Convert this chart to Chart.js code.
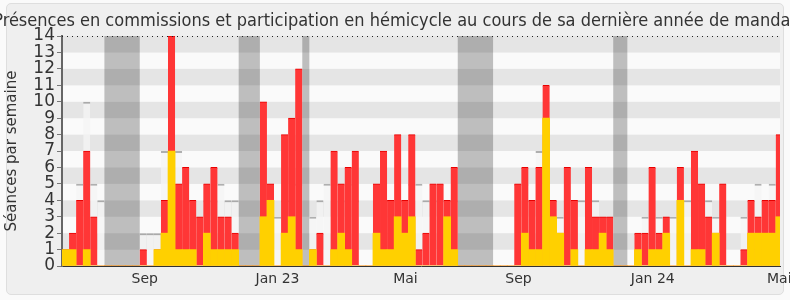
<!DOCTYPE html>
<html lang="fr">
<head>
<meta charset="utf-8">
<title>Présences en commissions et participation en hémicycle</title>
<script src="https://cdn.jsdelivr.net/npm/chart.js@4.4.0/dist/chart.umd.min.js"></script>
<style>
	html, body { margin: 0; padding: 0; background: #fafafa; }
	#wrap { position: relative; width: 790px; height: 300px; overflow: hidden; }
	#panel {
		position: absolute; left: 6px; top: 3px; width: 776px; height: 290px;
		background: #efefef; border: 1px solid #dedede; border-radius: 5px;
	}
	#chart { position: absolute; left: 0; top: 0; }
</style>
</head>
<body>
<div id="wrap">
	<div id="panel"></div>
	<canvas id="chart" width="790" height="300"></canvas>
</div>
<script>
// Weekly values, one entry per week (first week: mid-June 2022)
const commission = [
	1, 2, 4, 7, 3, 0, 0, 0, 0, 0, 0,
	1, 0, 1, 4, 14, 5, 6, 4, 3, 5, 6, 3, 3, 2, 0, 0, 0,
	10, 5, 0, 8, 9, 12, 0,
	1, 2, 0, 7, 5, 6, 7, 0, 0, 5, 7, 4, 8, 4, 8,
	1, 2, 5, 5, 4, 6, 0, 0, 0, 0, 0, 0, 0, 0,
	5, 6, 4, 6, 11, 4, 2, 6, 4, 0, 6, 3, 3, 3, 0, 0,
	0, 2, 2, 6, 2, 3, 0, 6, 0, 7, 5, 3, 2, 5, 0, 0, 1, 4, 3, 4, 4, 8
];
const hemicycle = [
	1, 1, 0, 1, 0, 0, 0, 0, 0, 0, 0,
	0, 0, 1, 2, 7, 1, 1, 1, 0, 2, 1, 1, 1, 1, 0, 0, 0,
	3, 4, 0, 2, 3, 1, 0,
	1, 0, 0, 1, 2, 1, 0, 0, 0, 2, 1, 1, 3, 2, 3,
	0, 0, 0, 0, 3, 1, 0, 0, 0, 0, 0, 0, 0, 0,
	0, 2, 1, 1, 9, 3, 2, 0, 1, 0, 1, 1, 2, 1, 0, 0,
	0, 1, 0, 1, 1, 2, 0, 4, 0, 1, 1, 0, 2, 0, 0, 0, 0, 2, 2, 2, 2, 3
];
// Median of all deputies (light bars with a grey top)
const median = [
	1, 2, 5, 10, 5, 4, 0, 0, 0, 0, 0,
	2, 2, 2, 7, 7, 7, 5, 4, 3, 4, 4, 5, 4, 4, 0, 0, 0,
	3, 4, 3, 4, 4, 5, 0,
	3, 4, 5, 5, 4, 5, 4, 0, 0, 4, 4, 4, 4, 4, 5,
	5, 4, 4, 4, 4, 4, 0, 0, 0, 0, 0, 0, 0, 0,
	5, 5, 4, 7, 7, 4, 3, 4, 4, 4, 4, 4, 3, 3, 0, 0,
	0, 2, 3, 3, 3, 3, 3, 4, 4, 4, 4, 4, 3, 3, 0, 0, 3, 4, 5, 4, 5, 4
];
// Weeks of parliamentary holidays
const vacationWeeks = [6, 7, 8, 9, 10, 25, 26, 27, 34, 56, 57, 58, 59, 60, 78, 79];

const tickLabels = ['Sep', 'Jan 23', 'Mai', 'Sep', 'Jan 24', 'Mai'];
const tickWeeks = [11.7, 30.5, 48.6, 64.6, 83.6, 101.5];

const yMax = 14;
const weekSpan = 101.6;
const titleText = 'Présences en commissions et participation en hémicycle au cours de sa dernière année de mandat';

Chart.defaults.font.family = '"DejaVu Sans", sans-serif';
Chart.defaults.color = '#333';

const toPoints = (values) => values.map((v, i) => ({ x: i + 0.5, y: v }));

// Groups consecutive holiday weeks into [first, last] runs
function vacationRuns() {
	let runs = [];
	for (let w of vacationWeeks) {
		let last = runs[runs.length - 1];
		if (last && last[1] === w - 1) last[1] = w;
		else runs.push([w, w]);
	}
	return runs;
}

// Horizontal bands, holidays, dotted top line and title
const decorations = {
	id: 'decorations',
	beforeDraw(chart) {
		const { ctx, chartArea: a, scales: { y } } = chart;
		ctx.save();
		for (let k = 0; k < yMax; k++) {
			const top = y.getPixelForValue(k + 1);
			const bottom = y.getPixelForValue(k);
			ctx.fillStyle = k % 2 ? '#e5e5e5' : '#fafafa';
			ctx.fillRect(a.left, top, a.right - a.left, bottom - top);
		}

		ctx.font = '18px "DejaVu Sans Condensed", "DejaVu Sans", sans-serif';
		ctx.fillStyle = '#333';
		ctx.textAlign = 'center';
		ctx.textBaseline = 'alphabetic';
		ctx.fillText(titleText, chart.width / 2, 26);
		ctx.restore();
	},
	beforeDatasetsDraw(chart) {
		const { ctx, scales: { x, y } } = chart;
		const top = y.getPixelForValue(yMax);
		const bottom = y.getPixelForValue(0);
		ctx.save();
		ctx.fillStyle = 'rgba(0, 0, 0, 0.24)';
		for (let [first, last] of vacationRuns()) {
			const left = x.getPixelForValue(first);
			const right = x.getPixelForValue(last + 1);
			ctx.fillRect(left, top, right - left, bottom - top);
		}
		ctx.restore();
	},
	afterDatasetsDraw(chart) {
		const { ctx, chartArea: a, scales: { y } } = chart;
		const top = Math.round(y.getPixelForValue(yMax)) + 0.5;
		ctx.save();
		ctx.setLineDash([1, 4]);
		ctx.strokeStyle = '#222';
		ctx.lineWidth = 1;
		ctx.beginPath();
		ctx.moveTo(a.left, top);
		ctx.lineTo(a.right, top);
		ctx.stroke();
		ctx.restore();
	}
};

new Chart(document.getElementById('chart'), {
	type: 'bar',
	data: {
		datasets: [
			{
				label: 'Participation en hémicycle',
				data: toPoints(hemicycle),
				backgroundColor: 'rgb(255, 208, 0)',
				order: 1,
			},
			{
				label: 'Présences en commission',
				data: toPoints(commission),
				backgroundColor: '#ff3636',
				borderColor: '#e80000',
				borderWidth: { top: 1, left: 0, right: 0, bottom: 0 },
				order: 2,
			},
			{
				label: 'Médiane',
				data: toPoints(median),
				backgroundColor: 'rgba(244, 244, 244, 0.75)',
				borderColor: 'rgba(150, 150, 150, 0.75)',
				borderWidth: { top: 2, left: 0, right: 0, bottom: 0 },
				inflateAmount: 0,
				order: 3,
			},
		]
	},
	options: {
		responsive: false,
		animation: false,
		devicePixelRatio: 1,
		grouped: false,
		barPercentage: 1,
		categoryPercentage: 1,
		layout: { padding: { top: 36, right: 10, left: 0, bottom: 0 } },
		plugins: {
			legend: { display: false },
			tooltip: { enabled: false },
		},
		scales: {
			x: {
				type: 'linear',
				min: 0,
				max: weekSpan,
				offset: false,
				grid: { display: false, drawTicks: false },
				border: { display: true, color: '#333', width: 1 },
				afterBuildTicks: s => { s.ticks = tickWeeks.map(v => ({ value: v })); },
				afterFit: s => { s.height = 34; s.paddingLeft = 0; s.paddingRight = 0; },
				ticks: {
					autoSkip: false,
					maxRotation: 0,
					padding: 5,
					font: { size: 14 },
					callback: (v, i) => tickLabels[i],
				},
			},
			y: {
				min: 0,
				max: yMax,
				ticks: { stepSize: 1, autoSkip: false, padding: 2, font: { size: 17, lineHeight: 1 } },
				grid: { drawOnChartArea: false, tickLength: 5, color: '#777' },
				border: { color: '#666', width: 2 },
				title: {
					display: true,
					text: 'Séances par semaine',
					font: { size: 15 },
					padding: { top: 3, bottom: 0 },
				},
				afterFit: s => { s.width = 62; },
			},
		},
	},
	plugins: [decorations],
});
</script>
</body>
</html>
